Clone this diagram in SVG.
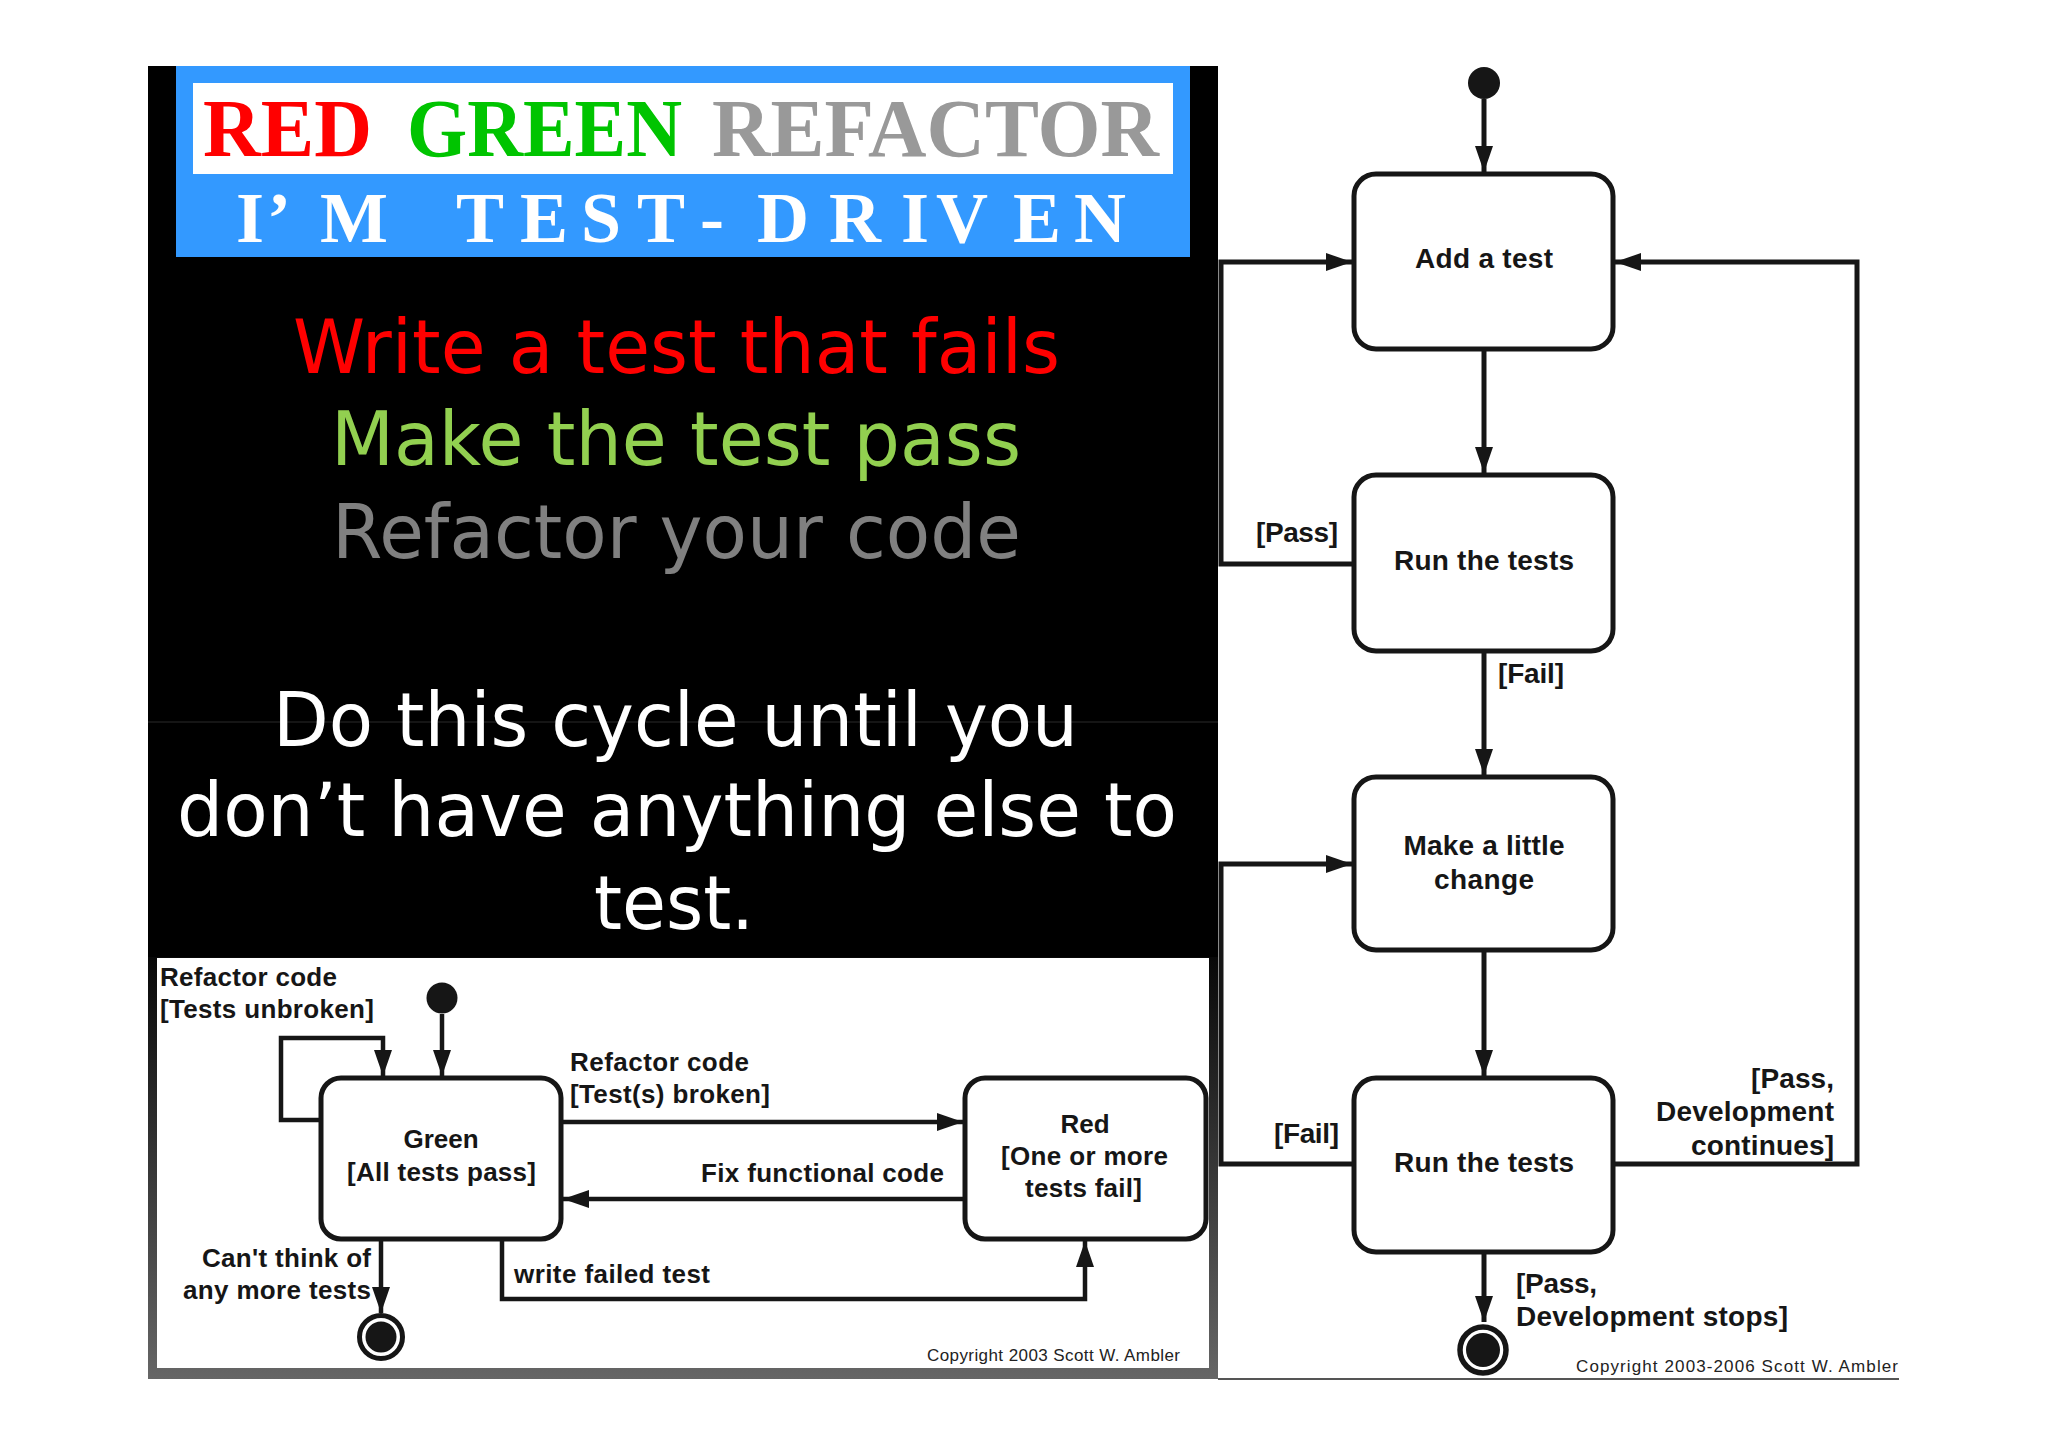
<svg xmlns="http://www.w3.org/2000/svg" width="2048" height="1447" viewBox="0 0 2048 1447">
<defs>
<style>
.t{font-family:"Liberation Sans",Arial,sans-serif;fill:#161616;font-weight:bold}
.s{font-size:26px}
.r{font-size:28px}
.c{font-family:"Liberation Sans",Arial,sans-serif;fill:#222;font-size:17px}
.ln{fill:none;stroke:#161616;stroke-width:4.5}
.lr{fill:none;stroke:#161616;stroke-width:5}
.box{fill:#fff;stroke:#161616;stroke-width:5}
.slide{font-family:"DejaVu Sans","Liberation Sans",sans-serif;font-size:75px}
.ttl{font-family:"Liberation Serif","Times New Roman",serif;font-weight:bold}
.mid{text-anchor:middle}
.end{text-anchor:end}
</style>
<marker id="ah" markerUnits="userSpaceOnUse" markerWidth="26" markerHeight="18" refX="26" refY="9" orient="auto"><path d="M0,0L26,9L0,18z" fill="#161616"/></marker>
<linearGradient id="frame" x1="0" y1="0" x2="0" y2="1"><stop offset="0" stop-color="#080808"/><stop offset="1" stop-color="#666"/></linearGradient>
</defs>
<rect width="2048" height="1447" fill="#fff"/>

<g id="left-panel">
<rect x="148" y="66" width="1070" height="892" fill="#000"/>
<rect x="148" y="957" width="1070" height="422" fill="url(#frame)"/>
<rect x="157" y="958" width="1052" height="410" fill="#fff"/>
<line x1="148" y1="722" x2="1218" y2="722" stroke="#2a2a2a" stroke-width="1"/>
</g>

<g id="banner">
<rect x="176" y="66" width="1014" height="191" fill="#3399ff"/>
<rect x="193" y="83" width="980" height="91" fill="#fff"/>
<text class="ttl" x="203" y="156" font-size="82" fill="#ff0000" textLength="169" lengthAdjust="spacingAndGlyphs">RED</text>
<text class="ttl" x="407" y="156" font-size="82" fill="#00c400" textLength="275" lengthAdjust="spacingAndGlyphs">GREEN</text>
<text class="ttl" x="712" y="156" font-size="82" fill="#999999" textLength="447" lengthAdjust="spacingAndGlyphs">REFACTOR</text>
<text class="ttl" y="242" font-size="72" fill="#fff" x="236 267 320 400 456 520 581 637 700 757 829 901 936 1013 1074">I’M TEST-DRIVEN</text>
</g>

<g id="slide-text">
<text class="slide" x="293" y="373" fill="#ff0000" textLength="767" lengthAdjust="spacingAndGlyphs">Write a test that fails</text>
<text class="slide" x="331" y="465" fill="#92d050" textLength="690" lengthAdjust="spacingAndGlyphs">Make the test pass</text>
<text class="slide" x="332" y="558" fill="#808080" textLength="689" lengthAdjust="spacingAndGlyphs">Refactor your code</text>
<text class="slide" x="273" y="746" fill="#fff" textLength="805" lengthAdjust="spacingAndGlyphs">Do this cycle until you</text>
<text class="slide" x="177" y="836" fill="#fff" textLength="1000" lengthAdjust="spacingAndGlyphs">don’t have anything else to</text>
<text class="slide" x="594" y="929" fill="#fff" textLength="160" lengthAdjust="spacingAndGlyphs">test.</text>
</g>

<g id="inset-connectors">
<path class="ln" d="M442,1014V1076" marker-end="url(#ah)"/>
<path class="ln" d="M321,1120H281V1038H383V1076" marker-end="url(#ah)"/>
<path class="ln" d="M561,1122H963" marker-end="url(#ah)"/>
<path class="ln" d="M965,1199H563" marker-end="url(#ah)"/>
<path class="ln" d="M502,1239V1299H1085V1241" marker-end="url(#ah)"/>
<path class="ln" d="M381,1239V1313" marker-end="url(#ah)"/>
<text class="t s" x="160" y="986" textLength="177">Refactor code</text>
<text class="t s" x="160" y="1018" textLength="214">[Tests unbroken]</text>
<text class="t s" x="570" y="1071" textLength="179">Refactor code</text>
<text class="t s" x="570" y="1103" textLength="200">[Test(s) broken]</text>
<text class="t s" x="701" y="1182" textLength="243">Fix functional code</text>
<text class="t s" x="514" y="1283" textLength="196">write failed test</text>
<text class="t s end" x="371" y="1267" textLength="169">Can't think of</text>
<text class="t s end" x="371" y="1299" textLength="188">any more tests</text>
<text class="c" x="927" y="1361" textLength="253">Copyright 2003 Scott W. Ambler</text>
</g>

<g id="inset-initial">
<circle cx="442" cy="998" r="15.5" fill="#161616"/>
</g>
<g id="inset-green">
<rect class="box" x="321" y="1078" width="240" height="161" rx="20"/>
<text class="t s mid" x="441" y="1148">Green</text>
<text class="t s" x="347" y="1181" textLength="189">[All tests pass]</text>
</g>
<g id="inset-red">
<rect class="box" x="965" y="1078" width="241" height="161" rx="20"/>
<text class="t s mid" x="1085" y="1133">Red</text>
<text class="t s" x="1001" y="1165" textLength="167">[One or more</text>
<text class="t s" x="1025" y="1197" textLength="117">tests fail]</text>
</g>
<g id="inset-final">
<circle cx="381" cy="1337" r="21.5" fill="#fff" stroke="#161616" stroke-width="5"/>
<circle cx="381" cy="1337" r="15.5" fill="#161616"/>
</g>

<g id="right-connectors">
<path class="lr" d="M1484,99V172" marker-end="url(#ah)"/>
<path class="lr" d="M1484,349V473" marker-end="url(#ah)"/>
<path class="lr" d="M1354,564H1221V262H1352" marker-end="url(#ah)"/>
<path class="lr" d="M1484,651V775" marker-end="url(#ah)"/>
<path class="lr" d="M1354,1164H1221V864H1352" marker-end="url(#ah)"/>
<path class="lr" d="M1484,950V1076" marker-end="url(#ah)"/>
<path class="lr" d="M1613,1164H1857V262H1615" marker-end="url(#ah)"/>
<path class="lr" d="M1484,1252V1322" marker-end="url(#ah)"/>
<text class="t r" x="1256" y="542" textLength="82">[Pass]</text>
<text class="t r" x="1498" y="683" textLength="66">[Fail]</text>
<text class="t r" x="1274" y="1143" textLength="65">[Fail]</text>
<text class="t r end" x="1834" y="1088" textLength="83">[Pass,</text>
<text class="t r end" x="1834" y="1121" textLength="178">Development</text>
<text class="t r end" x="1834" y="1155" textLength="143">continues]</text>
<text class="t r" x="1516" y="1293" textLength="81">[Pass,</text>
<text class="t r" x="1516" y="1326" textLength="272">Development stops]</text>
<text class="c" x="1576" y="1372" font-size="18" textLength="322">Copyright 2003-2006 Scott W. Ambler</text>
<line x1="1218" y1="1379" x2="1899" y2="1379" stroke="#555" stroke-width="2"/>
</g>

<g id="right-initial">
<circle cx="1484" cy="83" r="16" fill="#161616"/>
</g>
<g id="add-a-test">
<rect class="box" x="1354" y="174" width="259" height="175" rx="22"/>
<text class="t r mid" x="1484" y="268" textLength="138">Add a test</text>
</g>
<g id="run-tests-1">
<rect class="box" x="1354" y="475" width="259" height="176" rx="22"/>
<text class="t r mid" x="1484" y="570" textLength="180">Run the tests</text>
</g>
<g id="make-change">
<rect class="box" x="1354" y="777" width="259" height="173" rx="22"/>
<text class="t r mid" x="1484" y="855" textLength="161">Make a little</text>
<text class="t r mid" x="1484" y="889" textLength="100">change</text>
</g>
<g id="run-tests-2">
<rect class="box" x="1354" y="1078" width="259" height="174" rx="22"/>
<text class="t r mid" x="1484" y="1172" textLength="180">Run the tests</text>
</g>
<g id="right-final">
<circle cx="1483" cy="1350" r="23" fill="#fff" stroke="#161616" stroke-width="5.5"/>
<circle cx="1483" cy="1350" r="17" fill="#161616"/>
</g>
</svg>
